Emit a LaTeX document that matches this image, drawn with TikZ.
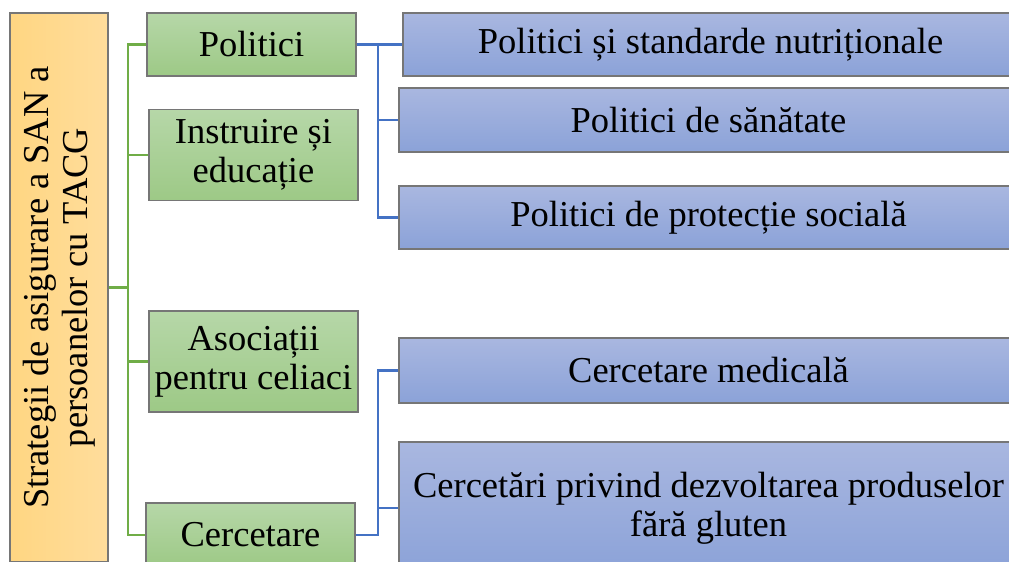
\documentclass[tikz,border=0pt]{standalone}
\usepackage{fontspec}
\setmainfont{Liberation Serif}
\definecolor{gtop}{HTML}{B6D7A8}
\definecolor{gbot}{HTML}{9DC986}
\definecolor{btop}{HTML}{A9B7E0}
\definecolor{bbot}{HTML}{8BA2D8}
\definecolor{otop}{HTML}{FFDD9C}
\definecolor{obot}{HTML}{FFD682}
\definecolor{glinec}{HTML}{70AD47}
\definecolor{blinec}{HTML}{4472C4}
\definecolor{bordc}{HTML}{767676}
\tikzset{
  box/.style={draw=bordc, line width=1.4pt, inner sep=0pt, align=center,
    font=\fontsize{36.5}{39}\selectfont},
  gbox/.style={box, top color=gtop, bottom color=gbot, minimum width=209pt},
  bbox/.style={box, top color=btop, bottom color=bbot},
  gline/.style={draw=glinec, line width=2.7pt},
  bline/.style={draw=blinec, line width=2.7pt},
}
\begin{document}
\begin{tikzpicture}[x=1pt,y=-1pt]
\useasboundingbox (0,0) rectangle (1009,562);
\clip (0,0) rectangle (1009,562);
\fill[white] (0,0) rectangle (1009,562);
% root
\node[box, rotate=90, left color=obot, right color=otop, minimum width=549pt, minimum height=98pt] (org) at (59,287.5)
  {Strategii de asigurare a SAN a\\persoanelor cu TACG};
% level 1
\node[gbox, minimum height=63pt] (pol) at (251.5,44.5) {Politici};
\node[gbox, minimum height=91pt] (ins) at (253.5,155) {Instruire și\\educație};
\node[gbox, minimum height=101pt] (aso) at (253.5,361.5) {Asociații\\pentru celiaci};
\node[gbox, minimum height=64pt] (cer) at (250.5,535) {Cercetare};
% level 2
\node[bbox, minimum width=615pt, minimum height=63pt] (b1) at (710.5,44.5) {Politici și standarde nutriționale};
\node[bbox, minimum width=619pt, minimum height=64pt] (b2) at (708.5,120) {Politici de sănătate};
\node[bbox, minimum width=619pt, minimum height=63pt] (b3) at (708.5,217.5) {Politici de protecție socială};
\node[bbox, minimum width=619pt, minimum height=65pt] (b4) at (708.5,370.5) {Cercetare medicală};
\node[bbox, minimum width=619pt, minimum height=132pt] (b5) at (708.5,508) {Cercetări privind dezvoltarea produselor\\fără gluten};
% green connectors
\coordinate (gx) at (128,0);
\draw[gline] (org.south) -- (org.south -| gx);
\draw[gline] (pol.west) -- (pol.west -| gx) -- (cer.west -| gx) -- (cer.west);
\draw[gline] (ins.west) -- (ins.west -| gx);
\draw[gline] (aso.west) -- (aso.west -| gx);
% blue connectors
\coordinate (bx) at (378,0);
\draw[bline] (pol.east) -- (b1.west);
\draw[bline] (pol.east -| bx) -- (b3.west -| bx) -- (b3.west);
\draw[bline] (b2.west -| bx) -- (b2.west);
\draw[bline] (cer.east) -- (cer.east -| bx) -- (b4.west -| bx) -- (b4.west);
\draw[bline] (b5.west -| bx) -- (b5.west);
\end{tikzpicture}
\end{document}
